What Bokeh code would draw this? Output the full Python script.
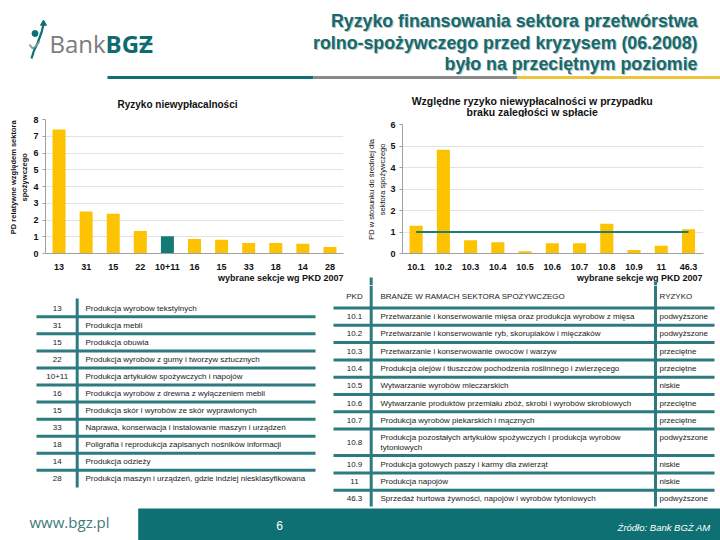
import math
from bokeh.plotting import figure
from bokeh.models import Range1d, FixedTicker
from bokeh.layouts import column, row
from bokeh.embed import file_html
from bokeh.resources import INLINE
from bokeh.core.properties import value

# ---------------- data ----------------
slide_title = ["Ryzyko finansowania sektora przetwórstwa",
               "rolno-spożywczego przed kryzysem (06.2008)",
               "było na przeciętnym poziomie"]
logo_bank = "Bank"
logo_bgz = "BGZ"
site_text = "www.bgz.pl"
page_no = "6"
source_text = "Źródło: Bank BGŻ AM"

c1_title = "Ryzyko niewypłacalności"
c1_cats = ["13", "31", "15", "22", "10+11", "16", "15", "33", "18", "14", "28"]
c1_vals = [7.40, 2.51, 2.37, 1.34, 1.03, 0.86, 0.82, 0.62, 0.62, 0.58, 0.39]
c1_highlight = "10+11"
c1_yticks = [0, 1, 2, 3, 4, 5, 6, 7, 8]
c1_ylabel = ["PD relatywne względem sektora", "spożywczego"]

c2_title = ["Względne ryzyko niewypłacalności w przypadku", "braku zaległości w spłacie"]
c2_cats = ["10.1", "10.2", "10.3", "10.4", "10.5", "10.6", "10.7", "10.8", "10.9", "11", "46.3"]
c2_vals = [1.29, 4.82, 0.62, 0.52, 0.10, 0.48, 0.48, 1.38, 0.16, 0.36, 1.13]
c2_avg = 1.0
c2_yticks = [0, 1, 2, 3, 4, 5, 6]
c2_ylabel = ["PD w stosunku do średniej dla", "sektora spożywczego"]

x_label = "wybrane sekcje wg PKD 2007"

left_codes = ["13", "31", "15", "22", "10+11", "16", "15", "33", "18", "14", "28"]
left_names = ["Produkcja wyrobów tekstylnych",
              "Produkcja mebli",
              "Produkcja obuwia",
              "Produkcja wyrobów z gumy i tworzyw sztucznych",
              "Produkcja artykułów spożywczych i napojów",
              "Produkcja wyrobów z drewna z wyłączeniem mebli",
              "Produkcja skór i wyrobów ze skór wyprawionych",
              "Naprawa, konserwacja i instalowanie maszyn i urządzeń",
              "Poligrafia i reprodukcja zapisanych nośników informacji",
              "Produkcja odzieży",
              "Produkcja maszyn i urządzeń, gdzie indziej niesklasyfikowana"]

right_head = ["PKD", "BRANŻE W RAMACH SEKTORA SPOŻYWCZEGO", "RYZYKO"]
right_codes = ["10.1", "10.2", "10.3", "10.4", "10.5", "10.6", "10.7", "10.8", "10.9", "11", "46.3"]
right_names = ["Przetwarzanie i konserwowanie mięsa oraz produkcja wyrobów z mięsa",
               "Przetwarzanie i konserwowanie ryb, skorupiaków i mięczaków",
               "Przetwarzanie i konserwowanie owoców i warzyw",
               "Produkcja olejów i tłuszczów pochodzenia roślinnego i zwierzęcego",
               "Wytwarzanie wyrobów mleczarskich",
               "Wytwarzanie produktów przemiału zbóż, skrobi i wyrobów skrobiowych",
               "Produkcja wyrobów piekarskich i mącznych",
               "Produkcja pozostałych artykułów spożywczych i produkcja wyrobów\ntytoniowych",
               "Produkcja gotowych paszy i karmy dla zwierząt",
               "Produkcja napojów",
               "Sprzedaż hurtowa żywności, napojów i wyrobów tytoniowych"]
right_risk = ["podwyższone", "podwyższone", "przeciętne", "przeciętne", "niskie", "przeciętne",
              "przeciętne", "podwyższone", "niskie", "niskie", "podwyższone"]

# ---------------- styles ----------------
TEAL = "#0f7073"
TITLE_TEAL = "#17696b"
YELLOW = "#FDC300"
BAR_TEAL = "#137a78"
TBL = "#2b7b80"
ARIAL = "Liberation Sans"
INK = "#111111"


def canvas(x0, x1, y0, y1):
    """A plain drawing area covering slide pixels x0..x1, y0..y1 (y downwards)."""
    p = figure(width=int(round(x1 - x0)), height=int(round(y1 - y0)),
               x_range=Range1d(x0, x1), y_range=Range1d(y1, y0),
               output_backend="svg", toolbar_location=None,
               x_axis_location=None, y_axis_location=None, min_border=0)
    p.grid.visible = False
    p.outline_line_color = None
    p.background_fill_color = "white"
    p.border_fill_color = "white"
    return p


# ---------------- header ----------------
hdr = canvas(0, 720, 0, 90)
ty = [20.7, 42.7, 63.6]
hdr.text(x=[698] * 3, y=[t + 1.0 for t in ty], text=slide_title, text_align="right",
         text_baseline="middle", text_font=value(ARIAL), text_font_style="bold",
         text_font_size="17.8px", text_color="#b3c4c4")
hdr.text(x=[697] * 3, y=ty, text=slide_title, text_align="right",
         text_baseline="middle", text_font=value(ARIAL), text_font_style="bold",
         text_font_size="17.8px", text_color=TITLE_TEAL)
hdr.segment(x0=[107, 313, 517], y0=[77, 77, 77], x1=[313, 517, 720], y1=[77, 77, 77],
            line_color=[TEAL, "#8a8a8a", "#EEC43A"], line_width=3)
# logo
hdr.text(x=[49], y=[43], text=[logo_bank], text_align="left", text_baseline="middle",
         text_font=value("Open Sans"), text_font_size="24px", text_color="#7c7c7c")
hdr.text(x=[105], y=[43], text=[logo_bgz], text_align="left", text_baseline="middle",
         text_font=value("Open Sans"), text_font_style="bold", text_font_size="24px",
         text_color="#0e6b6f")
hdr.segment(x0=[139], y0=[43.5], x1=[152], y1=[43.5], line_color="#0e6b6f", line_width=2.5)
hdr.scatter(x=[34.5], y=[33], size=6, color=TEAL)
hdr.line(x=[31, 33.5, 36.5, 41, 43], y=[58, 50, 44, 32, 24], line_color=TEAL, line_width=2.2)
hdr.line(x=[29, 32, 35, 39], y=[44, 48, 46, 41], line_color="#7c9a9a", line_width=1.8)
hdr.scatter(x=[43], y=[23], marker="triangle", size=6, color=TEAL)


# ---------------- bar charts ----------------
def bar_chart(w, h, mb, xr, yr, cats, vals, colors, yticks):
    p = figure(width=w, height=h, x_range=Range1d(*xr), y_range=Range1d(*yr),
               output_backend="svg", toolbar_location=None,
               min_border_left=mb[0], min_border_right=mb[1],
               min_border_top=mb[2], min_border_bottom=mb[3])
    p.outline_line_color = None
    p.background_fill_color = "white"
    p.border_fill_color = "white"
    idx = list(range(len(cats)))
    p.vbar(x=idx, top=vals, width=0.48, fill_color=colors, line_color=None)
    p.xgrid.visible = False
    p.yaxis.ticker = FixedTicker(ticks=yticks)
    p.ygrid.grid_line_color = "#e2e2e2"
    p.xaxis.ticker = FixedTicker(ticks=idx)
    p.xaxis.major_label_overrides = {i: c for i, c in enumerate(cats)}
    for ax in (p.xaxis, p.yaxis):
        ax.axis_line_color = "#a0a0a0"
        ax.major_tick_line_color = "#a0a0a0"
        ax.minor_tick_line_color = None
        ax.major_tick_in = 0
        ax.major_label_text_font = ARIAL
        ax.major_label_text_font_style = "bold"
        ax.major_label_text_font_size = "9px"
        ax.major_label_text_color = INK
    p.xaxis.major_tick_line_color = None
    p.xaxis.major_label_standoff = 4
    p.yaxis.major_tick_out = 3
    p.yaxis.major_label_standoff = 4
    return p


LBL = dict(text_baseline="middle", text_font=value(ARIAL), text_color=INK)

# chart 1 block: slide x 0..360, y 90..285
xr1, yr1 = (-0.5, 10.5), (0, 8)
col1 = [BAR_TEAL if c == c1_highlight else YELLOW for c in c1_cats]
t1 = canvas(0, 360, 90, 112)
t1.text(x=[177], y=[104], text=[c1_title], text_align="center", text_font_style="bold",
        text_font_size="10px", **LBL)
yl1 = canvas(0, 29, 112, 272)
yl1.text(x=[12.5, 23.5], y=[181, 181], text=c1_ylabel, angle=math.pi / 2, text_align="center",
         text_font_style="bold", text_font_size="7.5px", **LBL)
p1 = bar_chart(331, 160, (16, 17, 7, 16), xr1, yr1, c1_cats, c1_vals, col1, c1_yticks)
xl1 = canvas(0, 360, 272, 285)
xl1.text(x=[343], y=[277.5], text=[x_label], text_align="right", text_font_style="bold",
         text_font_size="9px", **LBL)
block1 = column(t1, row(yl1, p1), xl1)

# chart 2 block: slide x 360..720, y 90..285
xr2, yr2 = (-0.5, 10.55), (0, 6)
t2 = canvas(360, 720, 90, 117)
t2.text(x=[531.7, 531.7], y=[100, 111.3], text=c2_title, text_align="center",
        text_font_style="bold", text_font_size="10.5px", **LBL)
yl2 = canvas(360, 387, 117, 272)
yl2.text(x=[370.5, 382], y=[195, 183], text=c2_ylabel, angle=math.pi / 2, text_align="center",
         text_font_size="7.5px", **LBL)
p2 = bar_chart(333, 155, (13, 17, 7, 16), xr2, yr2, c2_cats, c2_vals,
               [YELLOW] * len(c2_cats), c2_yticks)
p2.line(x=list(range(len(c2_cats))), y=[c2_avg] * len(c2_cats), line_color="#1d7b78", line_width=2)
xl2 = canvas(360, 720, 272, 285)
xl2.text(x=[702], y=[277.5], text=[x_label], text_align="right", text_font_style="bold",
         text_font_size="9px", **LBL)
xl2.segment(x0=[370.7, 655], y0=[277, 281], x1=[370.7, 655], y1=[285, 285],
            line_color=TBL, line_width=3)
block2 = column(t2, row(yl2, p2), xl2)

# ---------------- bottom: tables + footer ----------------
bot = canvas(0, 720, 285, 540)
TXT = dict(text_font=value(ARIAL), text_font_size="8px", text_color="#1a1a1a",
           text_baseline="middle")

# left table
n = len(left_codes)
pitch = 17.07
row_y = [307.7 + i * pitch for i in range(n)]
sep_y = [y + pitch / 2 for y in row_y[:-1]]
bot.segment(x0=[36] * len(sep_y), y0=sep_y, x1=[315] * len(sep_y), y1=sep_y,
            line_color=TBL, line_width=3)
bot.segment(x0=[76.7], y0=[298], x1=[76.7], y1=[487], line_color=TBL, line_width=3)
bot.text(x=[56.7] * n, y=row_y, text=left_codes, text_align="center", **TXT)
bot.text(x=[85] * n, y=row_y, text=left_names, text_align="left", **TXT)

# right table
single, double = 17.3, 26.5
lines = [307.5]
for name in right_names[:-1]:
    lines.append(lines[-1] + (double if "\n" in name else single))
centers = []
for k, name in enumerate(right_names):
    h = double if "\n" in name else single
    centers.append(lines[k] + h / 2)
bot.segment(x0=[333] * len(lines), y0=lines, x1=[714] * len(lines), y1=lines,
            line_color=TBL, line_width=3)
bot.segment(x0=[370.7, 655], y0=[285, 285], x1=[370.7, 655], y1=[506, 506],
            line_color=TBL, line_width=3)
bot.text(x=[354, 380, 659], y=[296] * 3, text=right_head,
         text_align=["center", "left", "left"], **TXT)
bot.text(x=[354] * len(right_codes), y=centers, text=right_codes, text_align="center", **TXT)
nx, ny, nt = [], [], []
for c, name in zip(centers, right_names):
    parts = name.split("\n")
    for j, part in enumerate(parts):
        nx.append(380)
        ny.append(c + (j - (len(parts) - 1) / 2) * 10.5)
        nt.append(part)
bot.text(x=nx, y=ny, text=nt, text_align="left", **TXT)
risk_y = [c - 4.5 if "\n" in nm else c for c, nm in zip(centers, right_names)]
bot.text(x=[659] * len(right_risk), y=risk_y, text=right_risk, text_align="left", **TXT)

# footer
bot.quad(left=[137.7], right=[720], top=[508], bottom=[540], fill_color=TEAL, line_color=None)
bot.text(x=[29], y=[521], text=[site_text], text_align="left", text_baseline="middle",
         text_font=value("Open Sans"), text_font_size="15px", text_color="#3d7b7c")
bot.text(x=[279], y=[525], text=[page_no], text_align="center", text_baseline="middle",
         text_font=value(ARIAL), text_font_size="12px", text_color="white")
bot.text(x=[710], y=[527], text=[source_text], text_align="right", text_baseline="middle",
         text_font=value(ARIAL), text_font_style="italic", text_font_size="9.5px",
         text_color="white")

layout = column(hdr, row(block1, block2), bot)
open("out.html", "w").write(file_html(layout, INLINE))
